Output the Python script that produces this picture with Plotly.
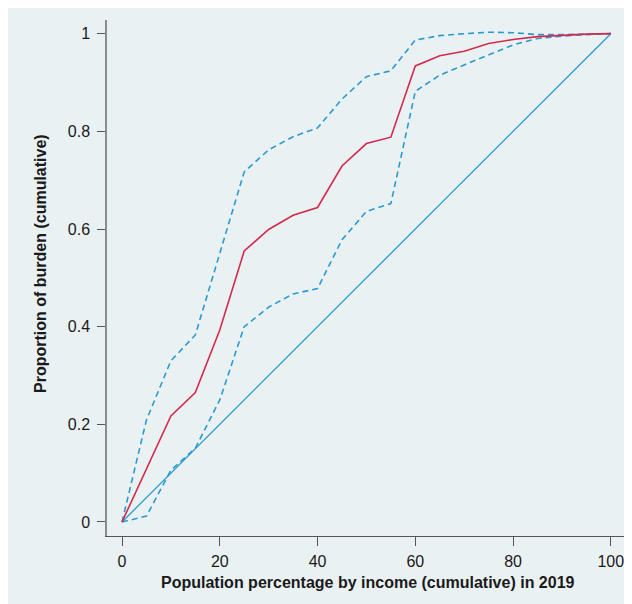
import plotly.graph_objects as go

# Data
population_pct = [0, 5, 10, 15, 20, 25, 30, 35, 40, 45, 50, 55, 60, 65, 70, 75, 80, 85, 90, 95, 100]
burden_cum = [0, 0.11, 0.217, 0.265, 0.393, 0.555, 0.599, 0.628, 0.644, 0.729, 0.775, 0.788,
              0.934, 0.955, 0.964, 0.980, 0.988, 0.994, 0.997, 0.999, 1.0]
upper_ci = [0, 0.209, 0.330, 0.383, 0.550, 0.717, 0.762, 0.789, 0.807, 0.866, 0.912, 0.924,
            0.987, 0.996, 1.0, 1.003, 1.002, 0.998, 0.998, 0.999, 1.0]
lower_ci = [0, 0.012, 0.106, 0.151, 0.250, 0.400, 0.440, 0.467, 0.478, 0.578, 0.636, 0.652,
            0.882, 0.915, 0.936, 0.957, 0.977, 0.990, 0.995, 0.998, 1.0]
equality_x = [0, 100]
equality_y = [0, 1]

x_ticks = [0, 20, 40, 60, 80, 100]
y_ticks = [0, 0.2, 0.4, 0.6, 0.8, 1]
y_tick_labels = ["0", "0.2", "0.4", "0.6", "0.8", "1"]

x_title = "Population percentage by income (cumulative) in 2019"
y_title = "Proportion of burden (cumulative)"

RED = "#d42a4d"
BLUE = "#2a9ad0"
BG = "#eaf1f3"

fig = go.Figure()
fig.add_trace(go.Scatter(x=equality_x, y=equality_y, mode="lines",
                         line=dict(color=BLUE, width=1.3), showlegend=False, hoverinfo="skip"))
fig.add_trace(go.Scatter(x=population_pct, y=upper_ci, mode="lines",
                         line=dict(color=BLUE, width=1.6, dash="6px,4px"), showlegend=False))
fig.add_trace(go.Scatter(x=population_pct, y=lower_ci, mode="lines",
                         line=dict(color=BLUE, width=1.6, dash="6px,4px"), showlegend=False))
fig.add_trace(go.Scatter(x=population_pct, y=burden_cum, mode="lines",
                         line=dict(color=RED, width=1.6), showlegend=False))

# figure coordinates (page is offset by the 8px body margin)
W, H = 632, 604
L, R, T, B = 99, 15, 12, 76
pw = W - L - R
ph = H - T - B

fig.update_layout(
    width=W, height=H,
    margin=dict(l=L, r=R, t=T, b=B, pad=0),
    paper_bgcolor=BG,
    plot_bgcolor=BG,
    font=dict(family="Liberation Sans, Arial, sans-serif", color="#1a1a1a", size=15),
    annotations=[
        dict(text="<b>" + x_title + "</b>", xref="paper", yref="paper",
             x=(360 - L) / pw, y=-(574 - (H - B)) / ph, showarrow=False,
             xanchor="center", yanchor="middle", font=dict(size=16, color="#1a1a1a")),
        dict(text="<b>" + y_title + "</b>", xref="paper", yref="paper",
             x=-(L - 33) / pw, y=(H - B - 256) / ph, showarrow=False, textangle=-90,
             xanchor="center", yanchor="middle", font=dict(size=16, color="#1a1a1a")),
    ],
)

fig.update_xaxes(range=[-3.07, 102.9], tickvals=x_ticks, ticks="outside", ticklen=9,
                 tickcolor="#555555", tickwidth=1, showline=True, linecolor="#555555",
                 linewidth=1.2, showgrid=False, zeroline=False, tickfont=dict(size=16),
                 ticklabelstandoff=2)
fig.update_yaxes(range=[-0.0287, 1.028], tickvals=y_ticks, ticktext=y_tick_labels,
                 ticks="outside", ticklen=8, tickcolor="#555555", tickwidth=1,
                 showline=True, linecolor="#8c8c8c", linewidth=1.5, showgrid=False,
                 zeroline=False, tickfont=dict(size=16), ticklabelstandoff=4)

fig.write_html("out.html")
